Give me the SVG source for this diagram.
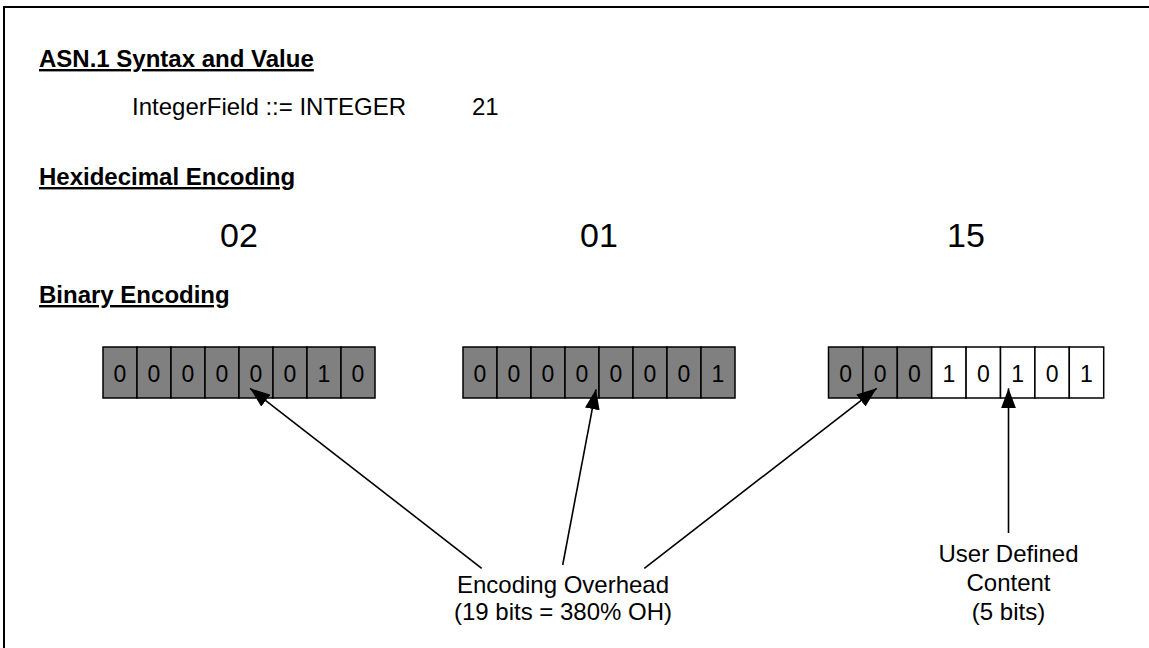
<svg xmlns="http://www.w3.org/2000/svg" width="1149" height="648" viewBox="0 0 1149 648">
<defs>
<style>
text{font-family:"Liberation Sans",Arial,sans-serif;fill:#000}
.h{font-weight:bold;font-size:24px;text-decoration:underline}
.t{font-size:24px}
.hex{font-size:34px;text-anchor:middle}
.b{font-size:23px;text-anchor:middle}
.lbl{font-size:24px;text-anchor:middle}
.g{fill:#808080;stroke:#000;stroke-width:1.5}
.w{fill:#fff;stroke:#000;stroke-width:1.5}
.c{stroke:#000;stroke-width:1.6;fill:none;marker-end:url(#ah)}
</style>
<marker id="ah" viewBox="0 0 20 15" refX="20" refY="7.5" markerWidth="20" markerHeight="15" markerUnits="userSpaceOnUse" orient="auto">
<path d="M0,0 L20,7.5 L0,15 z" fill="#000"/>
</marker>
</defs>
<rect x="4" y="7" width="1200" height="700" fill="#fff" stroke="#000" stroke-width="2"/>
<g id="titles">
<text class="h" x="39" y="67">ASN.1 Syntax and Value</text>
<text class="t" x="132" y="115">IntegerField ::= INTEGER</text>
<text class="t" x="472" y="115">21</text>
<text class="h" x="39" y="185">Hexidecimal Encoding</text>
<text class="hex" x="239" y="247">02</text>
<text class="hex" x="599" y="247">01</text>
<text class="hex" x="966" y="247">15</text>
<text class="h" x="39" y="303">Binary Encoding</text>
</g>
<g id="byte1">
<rect class="g" x="103" y="347" width="34" height="51"/>
<rect class="g" x="137" y="347" width="34" height="51"/>
<rect class="g" x="171" y="347" width="34" height="51"/>
<rect class="g" x="205" y="347" width="34" height="51"/>
<rect class="g" x="239" y="347" width="34" height="51"/>
<rect class="g" x="273" y="347" width="34" height="51"/>
<rect class="g" x="307" y="347" width="34" height="51"/>
<rect class="g" x="341" y="347" width="34" height="51"/>
<text class="b" x="120" y="382">0</text>
<text class="b" x="154" y="382">0</text>
<text class="b" x="188" y="382">0</text>
<text class="b" x="222" y="382">0</text>
<text class="b" x="256" y="382">0</text>
<text class="b" x="290" y="382">0</text>
<text class="b" x="324" y="382">1</text>
<text class="b" x="358" y="382">0</text>
</g>
<g id="byte2">
<rect class="g" x="463" y="347" width="34" height="51"/>
<rect class="g" x="497" y="347" width="34" height="51"/>
<rect class="g" x="531" y="347" width="34" height="51"/>
<rect class="g" x="565" y="347" width="34" height="51"/>
<rect class="g" x="599" y="347" width="34" height="51"/>
<rect class="g" x="633" y="347" width="34" height="51"/>
<rect class="g" x="667" y="347" width="34" height="51"/>
<rect class="g" x="701" y="347" width="34" height="51"/>
<text class="b" x="480" y="382">0</text>
<text class="b" x="514" y="382">0</text>
<text class="b" x="548" y="382">0</text>
<text class="b" x="582" y="382">0</text>
<text class="b" x="616" y="382">0</text>
<text class="b" x="650" y="382">0</text>
<text class="b" x="684" y="382">0</text>
<text class="b" x="718" y="382">1</text>
</g>
<g id="byte3">
<rect class="g" x="828.5" y="347" width="34.4" height="51"/>
<rect class="g" x="862.9" y="347" width="34.4" height="51"/>
<rect class="g" x="897.3" y="347" width="34.4" height="51"/>
<rect class="w" x="931.7" y="347" width="34.4" height="51"/>
<rect class="w" x="966.1" y="347" width="34.4" height="51"/>
<rect class="w" x="1000.5" y="347" width="34.4" height="51"/>
<rect class="w" x="1034.9" y="347" width="34.4" height="51"/>
<rect class="w" x="1069.3" y="347" width="34.4" height="51"/>
<text class="b" x="845.7" y="382">0</text>
<text class="b" x="880.1" y="382">0</text>
<text class="b" x="914.5" y="382">0</text>
<text class="b" x="948.9" y="382">1</text>
<text class="b" x="983.3" y="382">0</text>
<text class="b" x="1017.7" y="382">1</text>
<text class="b" x="1052.1" y="382">0</text>
<text class="b" x="1086.5" y="382">1</text>
</g>
<g id="connectors">
<line class="c" x1="481.7" y1="568.3" x2="250" y2="388.3"/>
<line class="c" x1="562.7" y1="565" x2="596" y2="389.3"/>
<line class="c" x1="644.3" y1="568.3" x2="876.7" y2="388.3"/>
<line class="c" x1="1008.5" y1="533" x2="1008.5" y2="388.3"/>
</g>
<g id="overhead">
<text class="lbl" x="563" y="593">Encoding Overhead</text>
<text class="lbl" x="563" y="620">(19 bits = 380% OH)</text>
</g>
<g id="content">
<text class="lbl" x="1008.5" y="562">User Defined</text>
<text class="lbl" x="1008.5" y="591">Content</text>
<text class="lbl" x="1008.5" y="620">(5 bits)</text>
</g>
</svg>
